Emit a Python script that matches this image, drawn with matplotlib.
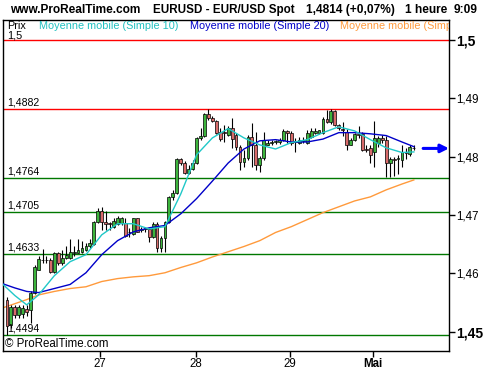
import numpy as np
import matplotlib.pyplot as plt
from matplotlib.patches import Rectangle

plt.rcParams['font.family'] = ['Liberation Sans', 'DejaVu Sans']

# Bougies horaires EUR/USD
opens = [1.4555, 1.4512, 1.4543, 1.4529, 1.4531, 1.4539, 1.4538, 1.4567, 1.4606, 1.4623,
         1.4623, 1.4623, 1.4603, 1.4635, 1.4618, 1.4627, 1.4627, 1.4635, 1.4635, 1.4637,
         1.4640, 1.4646, 1.4651, 1.4688, 1.4707, 1.4688, 1.4687, 1.4680, 1.4685, 1.4687,
         1.4687, 1.4670, 1.4668, 1.4694, 1.4675, 1.4676, 1.4676, 1.4663, 1.4685, 1.4644,
         1.4661, 1.4688, 1.4730, 1.4738, 1.4796, 1.4789, 1.4772, 1.4779, 1.4789, 1.4832,
         1.4836, 1.4873, 1.4866, 1.4861, 1.4842, 1.4842, 1.4837, 1.4849, 1.4837, 1.4817,
         1.4791, 1.4798, 1.4834, 1.4820, 1.4786, 1.4798, 1.4820, 1.4824, 1.4825, 1.4825,
         1.4829, 1.4844, 1.4841, 1.4825, 1.4824, 1.4827, 1.4824, 1.4834, 1.4841, 1.4841,
         1.4841, 1.4865, 1.4860, 1.4878, 1.4854, 1.4848, 1.4842, 1.4820, 1.4829, 1.4839,
         1.4839, 1.4812, 1.4815, 1.4807, 1.4824, 1.4832, 1.4829, 1.4789, 1.4796, 1.4796,
         1.4795, 1.4807, 1.4805, 1.4815]
highs = [1.4560, 1.4546, 1.4546, 1.4546, 1.4545, 1.4545, 1.4569, 1.4615, 1.4630, 1.4642,
         1.4630, 1.4627, 1.4637, 1.4637, 1.4640, 1.4646, 1.4659, 1.4647, 1.4658, 1.4656,
         1.4652, 1.4658, 1.4690, 1.4712, 1.4714, 1.4706, 1.4688, 1.4694, 1.4699, 1.4697,
         1.4695, 1.4678, 1.4695, 1.4695, 1.4680, 1.4680, 1.4678, 1.4688, 1.4688, 1.4664,
         1.4690, 1.4733, 1.4743, 1.4798, 1.4798, 1.4793, 1.4786, 1.4795, 1.4834, 1.4849,
         1.4875, 1.4882, 1.4870, 1.4863, 1.4849, 1.4854, 1.4853, 1.4866, 1.4841, 1.4820,
         1.4812, 1.4837, 1.4858, 1.4842, 1.4801, 1.4842, 1.4829, 1.4829, 1.4829, 1.4832,
         1.4848, 1.4846, 1.4844, 1.4832, 1.4834, 1.4834, 1.4846, 1.4849, 1.4849, 1.4846,
         1.4868, 1.4880, 1.4882, 1.4880, 1.4856, 1.4860, 1.4848, 1.4832, 1.4841, 1.4853,
         1.4842, 1.4820, 1.4820, 1.4861, 1.4836, 1.4837, 1.4836, 1.4800, 1.4800, 1.4803,
         1.4819, 1.4815, 1.4819, 1.4819]
lows = [1.4495, 1.4507, 1.4524, 1.4524, 1.4524, 1.4527, 1.4515, 1.4565, 1.4605, 1.4618,
        1.4618, 1.4601, 1.4601, 1.4615, 1.4615, 1.4625, 1.4625, 1.4630, 1.4634, 1.4635,
        1.4639, 1.4644, 1.4649, 1.4687, 1.4675, 1.4675, 1.4675, 1.4678, 1.4683, 1.4683,
        1.4663, 1.4663, 1.4666, 1.4670, 1.4671, 1.4671, 1.4654, 1.4661, 1.4637, 1.4637,
        1.4637, 1.4687, 1.4726, 1.4736, 1.4786, 1.4771, 1.4771, 1.4777, 1.4788, 1.4829,
        1.4834, 1.4863, 1.4860, 1.4839, 1.4827, 1.4825, 1.4836, 1.4815, 1.4812, 1.4777,
        1.4783, 1.4795, 1.4783, 1.4777, 1.4774, 1.4795, 1.4819, 1.4819, 1.4822, 1.4822,
        1.4827, 1.4824, 1.4820, 1.4807, 1.4822, 1.4824, 1.4822, 1.4832, 1.4839, 1.4839,
        1.4839, 1.4858, 1.4856, 1.4853, 1.4846, 1.4836, 1.4812, 1.4819, 1.4827, 1.4832,
        1.4810, 1.4808, 1.4789, 1.4783, 1.4817, 1.4824, 1.4765, 1.4765, 1.4767, 1.4771,
        1.4783, 1.4796, 1.4801, 1.4812]
closes = [1.4510, 1.4543, 1.4529, 1.4543, 1.4541, 1.4533, 1.4567, 1.4611, 1.4625, 1.4622,
          1.4622, 1.4603, 1.4635, 1.4618, 1.4627, 1.4632, 1.4637, 1.4637, 1.4640, 1.4644,
          1.4647, 1.4652, 1.4688, 1.4707, 1.4688, 1.4685, 1.4685, 1.4690, 1.4695, 1.4695,
          1.4664, 1.4671, 1.4694, 1.4671, 1.4676, 1.4677, 1.4663, 1.4685, 1.4644, 1.4661,
          1.4688, 1.4730, 1.4738, 1.4796, 1.4789, 1.4772, 1.4779, 1.4789, 1.4832, 1.4836,
          1.4873, 1.4866, 1.4861, 1.4841, 1.4830, 1.4841, 1.4849, 1.4830, 1.4817, 1.4791,
          1.4798, 1.4834, 1.4820, 1.4786, 1.4798, 1.4829, 1.4824, 1.4825, 1.4826, 1.4829,
          1.4844, 1.4841, 1.4824, 1.4827, 1.4829, 1.4828, 1.4841, 1.4844, 1.4844, 1.4845,
          1.4865, 1.4860, 1.4878, 1.4854, 1.4849, 1.4846, 1.4820, 1.4829, 1.4839, 1.4837,
          1.4812, 1.4811, 1.4803, 1.4832, 1.4832, 1.4829, 1.4789, 1.4796, 1.4795, 1.4797,
          1.4807, 1.4806, 1.4817, 1.4814]

# Moyennes mobiles
ma_idx = [-1, 2, 5, 8, 12, 16, 20, 24, 28, 32, 36, 40, 44, 48, 52, 56, 60, 64, 68, 72,
          76, 80, 84, 88, 92, 96, 100, 103]
ma10 = [1.4581, 1.4562, 1.4546, 1.4563, 1.4596, 1.4620, 1.4632, 1.4666, 1.4685, 1.4685,
        1.4676, 1.4680, 1.4736, 1.4803, 1.4832, 1.4848, 1.4832, 1.4820, 1.4813, 1.4824,
        1.4829, 1.4841, 1.4851, 1.4844, 1.4829, 1.4815, 1.4807, 1.4808]
ma20 = [1.4582, 1.4575, 1.4569, 1.4567, 1.4574, 1.4581, 1.4601, 1.4632, 1.4656, 1.4671,
        1.4678, 1.4682, 1.4702, 1.4728, 1.4758, 1.4789, 1.4813, 1.4827, 1.4829, 1.4825,
        1.4825, 1.4830, 1.4841, 1.4841, 1.4839, 1.4836, 1.4825, 1.4817]
ma_long = [1.4541, 1.4548, 1.4555, 1.4563, 1.4569, 1.4574, 1.4577, 1.4586, 1.4591, 1.4594,
           1.4596, 1.4601, 1.4610, 1.4618, 1.4628, 1.4637, 1.4646, 1.4656, 1.4670, 1.4680,
           1.4692, 1.4704, 1.4714, 1.4724, 1.4731, 1.4743, 1.4753, 1.4760]

red_levels = [1.5, 1.4882]
green_levels = [1.4764, 1.4705, 1.4633, 1.4494]
level_labels = ['1,4882', '1,4764', '1,4705', '1,4633', '1,4494']

day_ticks = [23.5, 47.8, 71.6, 92.6]
day_labels = ['27', '28', '29', 'Mai']
price_ticks = [1.5, 1.49, 1.48, 1.47, 1.46, 1.45]
price_labels = ['1,5', '1,49', '1,48', '1,47', '1,46', '1,45']

last_price = 1.4814

fig = plt.figure(figsize=(5, 3.7), dpi=100)
ax = fig.add_axes([0.006, 0.0514, 0.892, 0.8946])

# lignes horizontales
for lv in red_levels:
    ax.axhline(lv, color='#ff0000', lw=1.0, zorder=1)
for lv in green_levels:
    ax.axhline(lv, color='#007800', lw=1.0, zorder=1)

for lv, lab in zip([1.4882] + green_levels, level_labels):
    ax.text(0.009, lv + 0.00025, lab, transform=ax.get_yaxis_transform(),
            fontsize=7.6, va='bottom', ha='left', zorder=6)

# bougies
w = 0.72
for i in range(len(closes)):
    o, h, l, c = opens[i], highs[i], lows[i], closes[i]
    ax.vlines(i, l, h, color='black', lw=0.8, zorder=3)
    col = '#3cb43c' if c >= o else '#d86a6a'
    bottom = min(o, c)
    height = max(abs(c - o), 0.00012)
    ax.add_patch(Rectangle((i - w / 2, bottom), w, height, facecolor=col,
                           edgecolor='black', lw=0.5, zorder=4))

ax.plot(ma_idx, ma_long, color='#ff9a3c', lw=1.0, zorder=2)
ax.plot(ma_idx, ma20, color='#0000c8', lw=1.0, zorder=5)
ax.plot(ma_idx, ma10, color='#20c8c8', lw=1.0, zorder=5)

ax.set_xlim(-1.0, 111.9)
ax.set_ylim(1.4467, 1.5034)

# axe des prix a droite
ax.yaxis.tick_right()
ax.set_yticks(price_ticks)
ax.set_yticklabels(price_labels)
for t, lab in zip(ax.get_yticklabels(), price_labels):
    if lab in ('1,5', '1,45'):
        t.set_fontweight('bold')
        t.set_fontsize(10)
    else:
        t.set_fontsize(8.3)
ax.tick_params(axis='y', length=4, width=1, pad=1, direction='out')

ax.set_xticks(day_ticks)
ax.set_xticklabels(day_labels)
for t, lab in zip(ax.get_xticklabels(), day_labels):
    t.set_fontsize(8.3)
    if lab == 'Mai':
        t.set_fontweight('bold')
ax.tick_params(axis='x', length=4, width=1, pad=1, direction='out')

for s in ax.spines.values():
    s.set_linewidth(1.0)
    s.set_color('black')

# legende en haut
ax.text(0.009, 0.997, 'Prix', transform=ax.transAxes, fontsize=7.8, va='top')
ax.text(0.009, 0.968, '1,5', transform=ax.transAxes, fontsize=7.8, va='top')
ax.text(0.081, 0.997, 'Moyenne mobile (Simple 10)', transform=ax.transAxes,
        fontsize=7.8, va='top', color='#20c0c0')
ax.text(0.419, 0.997, 'Moyenne mobile (Simple 20)', transform=ax.transAxes,
        fontsize=7.8, va='top', color='#0000c8')
ax.text(0.755, 0.997, 'Moyenne mobile (Simple 100)', transform=ax.transAxes,
        fontsize=7.8, va='top', color='#ff9a3c', clip_on=True)

ax.text(0.004, 0.003, '\u00a9 ProRealTime.com', transform=ax.transAxes,
        fontsize=8.3, va='bottom')

# fleche du dernier cours
ax.annotate('', xy=(1.0, last_price), xycoords=('axes fraction', 'data'),
            xytext=(0.942, last_price), textcoords=('axes fraction', 'data'),
            arrowprops=dict(arrowstyle='-|>', color='#0000ff', lw=2.2,
                            mutation_scale=12, shrinkA=0, shrinkB=0),
            annotation_clip=False)

# titre
fig.text(0.02, 0.972, 'www.ProRealTime.com', fontsize=8.6, fontweight='bold', va='center')
fig.text(0.306, 0.972, 'EURUSD - EUR/USD Spot', fontsize=8.4, fontweight='bold', va='center')
fig.text(0.612, 0.972, '1,4814 (+0,07%)', fontsize=8.6, fontweight='bold', va='center')
fig.text(0.81, 0.972, '1 heure', fontsize=8.6, fontweight='bold', va='center')
fig.text(0.908, 0.972, '9:09', fontsize=8.6, fontweight='bold', va='center')

fig.savefig('out.png', dpi=100)
